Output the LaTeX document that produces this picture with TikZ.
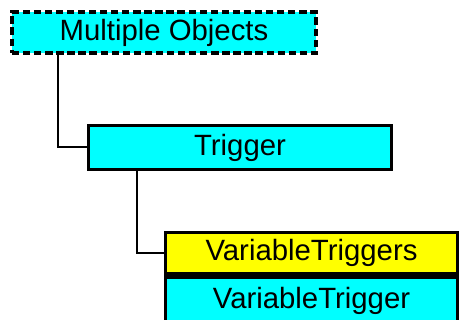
\documentclass[tikz,border=0pt]{standalone}
\usepackage{fontspec}
\setmainfont{Liberation Sans}
\definecolor{boxcyan}{HTML}{00FFFF}
\definecolor{boxyellow}{HTML}{FFFF00}
\begin{document}
\begin{tikzpicture}[x=0.75pt,y=-0.75pt,
  objbox/.style={draw=black, line width=2.6pt, rectangle, inner sep=0pt,
    font=\fontsize{22}{26}\selectfont, text=black},
  conn/.style={draw=black, line width=1.5pt}]
\useasboundingbox (0,0) rectangle (461,320);
\clip (0,0) rectangle (461,320);
\node[objbox, fill=boxcyan, dash pattern=on 5.5pt off 2.8pt, minimum width=228pt, minimum height=30.5pt] (mo) at (164,32.5) {Multiple Objects};
\node[objbox, fill=boxcyan, minimum width=227pt, minimum height=33pt] (trig) at (240,147.5) {Trigger};
\node[objbox, fill=boxyellow, minimum width=219pt, minimum height=31pt] (vts) at (311.5,253) {VariableTriggers};
\node[objbox, fill=boxcyan, minimum width=219pt, minimum height=35pt, anchor=north] (vt) at (vts.south) {VariableTrigger};
\draw[conn] ([xshift=36pt]mo.south west) |- (trig.west);
\draw[conn] ([xshift=37.5pt]trig.south west) |- (vts.west);
\end{tikzpicture}
\end{document}
